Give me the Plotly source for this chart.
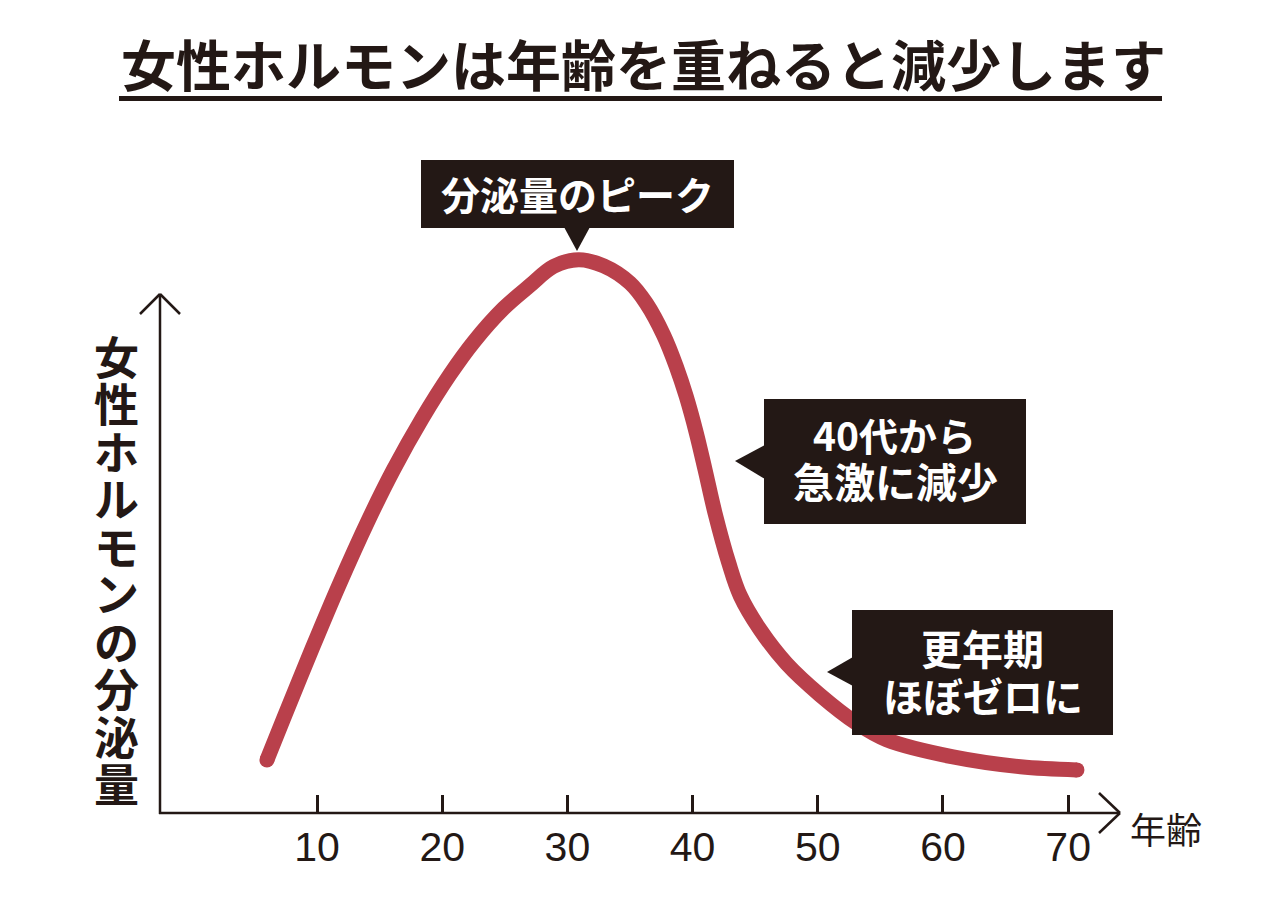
import plotly.graph_objects as go

# ---------------- data ----------------
ages = [6.0, 7.3, 9.6, 11.7, 14.1, 16.1, 18.4, 20.6, 22.5, 24.9, 27.0, 28.9, 30.9,
        32.9, 35.0, 36.3, 37.7, 38.7, 39.5, 40.3, 41.0, 41.8, 42.9, 43.8, 45.4,
        47.5, 50.2, 53.1, 55.5, 60.8, 66.2, 70.7]
hormone = [10.2, 18.0, 31.6, 43.6, 56.4, 66.1, 76.0, 84.4, 90.7, 97.2, 101.6, 105.3, 106.6,
           105.4, 102.1, 98.2, 92.0, 86.0, 80.2, 73.2, 66.1, 57.7, 48.1, 41.9, 35.3,
           28.8, 22.7, 17.3, 14.1, 10.8, 8.9, 8.3]
tick_vals = [10, 20, 30, 40, 50, 60, 70]
tick_text = ["10", "20", "30", "40", "50", "60", "70"]

title_text = "女性ホルモンは年齢を重ねると減少します"
y_label = "女性ホルモンの分泌量"
x_label = "年齢"
peak_label = "分泌量のピーク"
decline_lines = ["40代から", "急激に減少"]
meno_lines = ["更年期", "ほぼゼロに"]

# ---------------- styles ----------------
RED = "#b9404b"
INK = "#231815"
JP = "Noto Sans CJK JP"
NUM = "Liberation Sans Narrow, Arial Narrow, Liberation Sans, Arial"

OFF = 8  # page body margin
W, H = 1280 - 2 * OFF, 900 - 2 * OFF
PX_L, PX_R, PX_B, PX_T = 160, 1120, 813, 242   # plot area in page pixels
X_RANGE = [-2.54, 74.14]
Y_RANGE = [0, 110]


def px(x):
    return (x - PX_L) / (PX_R - PX_L)


def py(y):
    return (PX_B - y) / (PX_B - PX_T)


fig = go.Figure()
fig.add_trace(go.Scatter(
    x=ages, y=hormone, mode="lines",
    line=dict(color=RED, width=15, shape="spline", smoothing=1.0),
    hoverinfo="skip", showlegend=False,
))
# rounded ends of the curve
fig.add_trace(go.Scatter(
    x=[ages[0], ages[-1]], y=[hormone[0], hormone[-1]], mode="markers",
    marker=dict(color=RED, size=15, line=dict(width=0)),
    hoverinfo="skip", showlegend=False,
))

shapes = []
LW = 2.5


def seg(x0, y0, x1, y1):
    shapes.append(dict(type="line", xref="paper", yref="paper",
                       x0=px(x0), y0=py(y0), x1=px(x1), y1=py(y1),
                       line=dict(color=INK, width=LW)))


# axes with open arrowheads
seg(159, 813, 1120, 813)
seg(1099, 793, 1120, 813)
seg(1099, 833, 1120, 813)
seg(160, 814, 160, 294)
seg(140, 314, 160, 294)
seg(180, 314, 160, 294)

# title underline
shapes.append(dict(type="rect", xref="paper", yref="paper",
                   x0=px(119), y0=py(96), x1=px(1162), y1=py(101),
                   fillcolor=INK, line=dict(width=0)))


def callout(x0, y0, x1, y1, tri):
    shapes.append(dict(type="rect", xref="paper", yref="paper", layer="above",
                       x0=px(x0), y0=py(y0), x1=px(x1), y1=py(y1),
                       fillcolor=INK, line=dict(width=0)))
    path = "M {} {} L {} {} L {} {} Z".format(
        px(tri[0][0]), py(tri[0][1]), px(tri[1][0]), py(tri[1][1]),
        px(tri[2][0]), py(tri[2][1]))
    shapes.append(dict(type="path", xref="paper", yref="paper", layer="above",
                       path=path, fillcolor=INK, line=dict(width=0)))


callout(421, 160, 734, 228, [(564, 227), (590, 227), (577, 251)])
callout(764, 399, 1026, 524, [(765, 445), (765, 479), (735, 461)])
callout(852, 610, 1113, 735, [(853, 657), (853, 686), (827, 672)])

annotations = []


def text(t, x, y, size, color=INK, bold=True, xanchor="center", height=None):
    a = dict(
        text=t, xref="paper", yref="paper", x=px(x), y=py(y),
        xanchor=xanchor, yanchor="middle", showarrow=False,
        font=dict(family=JP, size=size, color=color,
                  weight="bold" if bold else "normal"))
    if height is not None:
        a["height"] = height
    annotations.append(a)


text(title_text, 643, 62, 55)
text(peak_label, 577, 193, 39, color="white")
text(decline_lines[0], 894, 434, 39, color="white")
text(decline_lines[1], 895, 480, 41, color="white")
text(meno_lines[0], 982, 647, 41, color="white")
text(meno_lines[1], 983, 695, 40, color="white")
for i, ch in enumerate(y_label):
    text(ch, 116, 355 + i * 47.5, 45, height=47)
text(x_label, 1128, 828, 36, bold=False, xanchor="left")

fig.update_layout(
    width=W, height=H,
    margin=dict(l=PX_L - OFF, r=W - (PX_R - OFF), t=PX_T - OFF,
                b=H - (PX_B - OFF), pad=0),
    paper_bgcolor="white", plot_bgcolor="white",
    shapes=shapes, annotations=annotations,
    showlegend=False,
    xaxis=dict(range=X_RANGE, tickvals=tick_vals, ticktext=tick_text,
               ticks="inside", ticklen=18, tickwidth=2.5, tickcolor=INK,
               ticklabelstandoff=6,
               showgrid=False, zeroline=False, showline=False,
               tickfont=dict(family=NUM, size=41, color=INK),
               fixedrange=True),
    yaxis=dict(range=Y_RANGE, visible=False, fixedrange=True),
)

fig.write_html("out.html", config={"displayModeBar": False})
